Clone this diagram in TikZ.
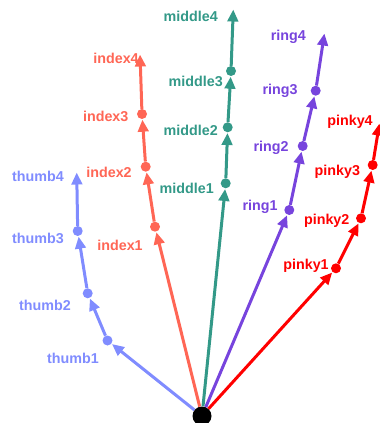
\documentclass[tikz,border=0pt]{standalone}
\usepackage{fontspec}
\setmainfont{Liberation Sans}
\usetikzlibrary{arrows.meta}
\definecolor{thumbc}{RGB}{128,140,255}
\definecolor{indexc}{RGB}{255,102,85}
\definecolor{middlec}{RGB}{51,153,136}
\definecolor{ringc}{RGB}{119,68,221}
\definecolor{pinkyc}{RGB}{255,0,0}
\tikzset{
  joint/.style={circle, fill, inner sep=0pt, minimum size=10pt},
  lbl/.style={font=\bfseries\fontsize{14.3}{15}\selectfont, inner sep=0pt},
  bone/.style={line width=3pt, -{Triangle[length=12pt,width=10.5pt]}, shorten >=0.5pt},
}
\begin{document}
\begin{tikzpicture}[x=1pt,y=-1pt]
\useasboundingbox (0,0) rectangle (380,423);
% wrist
\node[circle, fill=black, minimum size=19pt, inner sep=0pt] (root) at (202,416) {};
% thumb
\begin{scope}[thumbc]
\node[joint] (t1) at (107.5,340.5) {};
\node[joint] (t2) at (87.7,293.3) {};
\node[joint] (t3) at (77.7,231) {};
\coordinate (t4) at (76.7,172);
\node[lbl] (lt1) at (73,358) {thumb1};
\node[lbl] (lt2) at (45,305) {thumb2};
\node[lbl] (lt3) at (38,238) {thumb3};
\node[lbl] (lt4) at (38,176) {thumb4};
\draw[bone] (root) -- (t1);
\draw[bone] (t1) -- (t2);
\draw[bone] (t2) -- (t3);
\draw[bone] (t3) -- (t4);
\end{scope}
% index
\begin{scope}[indexc]
\node[joint] (i1) at (155,226.7) {};
\node[joint] (i2) at (145.7,166.7) {};
\node[joint] (i3) at (142,114) {};
\coordinate (i4) at (140,54);
\node[lbl] (li1) at (120,245) {index1};
\node[lbl] (li2) at (109,172) {index2};
\node[lbl] (li3) at (105.7,116.7) {index3};
\node[lbl] (li4) at (116,58) {index4};
\draw[bone] (root) -- (i1);
\draw[bone] (i1) -- (i2);
\draw[bone] (i2) -- (i3);
\draw[bone] (i3) -- (i4);
\end{scope}
% middle
\begin{scope}[middlec]
\node[joint] (m1) at (225.7,183.3) {};
\node[joint] (m2) at (227.7,127.3) {};
\node[joint] (m3) at (231,71) {};
\coordinate (m4) at (233.3,9);
\node[lbl] (lm1) at (186.7,188.3) {middle1};
\node[lbl] (lm2) at (190.7,130) {middle2};
\node[lbl] (lm3) at (195.7,81.7) {middle3};
\node[lbl] (lm4) at (190.7,16.7) {middle4};
\draw[bone] (root) -- (m1);
\draw[bone] (m1) -- (m2);
\draw[bone] (m2) -- (m3);
\draw[bone] (m3) -- (m4);
\end{scope}
% ring
\begin{scope}[ringc]
\node[joint] (r1) at (289.3,210) {};
\node[joint] (r2) at (302.7,146) {};
\node[joint] (r3) at (315.7,90.7) {};
\coordinate (r4) at (324.5,33);
\node[lbl] (lr1) at (260,206.7) {ring1};
\node[lbl] (lr2) at (271,148.3) {ring2};
\node[lbl] (lr3) at (280,90.7) {ring3};
\node[lbl] (lr4) at (288.3,37.3) {ring4};
\draw[bone] (root) -- (r1);
\draw[bone] (r1) -- (r2);
\draw[bone] (r2) -- (r3);
\draw[bone] (r3) -- (r4);
\end{scope}
% pinky
\begin{scope}[pinkyc]
\node[joint] (p1) at (336,268.3) {};
\node[joint] (p2) at (361,218.3) {};
\node[joint] (p3) at (372.7,165) {};
\coordinate (p4) at (379.5,123);
\node[lbl] (lp1) at (306,265.7) {pinky1};
\node[lbl] (lp2) at (326.7,221) {pinky2};
\node[lbl] (lp3) at (337.3,172.3) {pinky3};
\node[lbl] (lp4) at (350,121.7) {pinky4};
\draw[bone] (root) -- (p1);
\draw[bone] (p1) -- (p2);
\draw[bone] (p2) -- (p3);
\draw[bone] (p3) -- (p4);
\end{scope}
\end{tikzpicture}
\end{document}
